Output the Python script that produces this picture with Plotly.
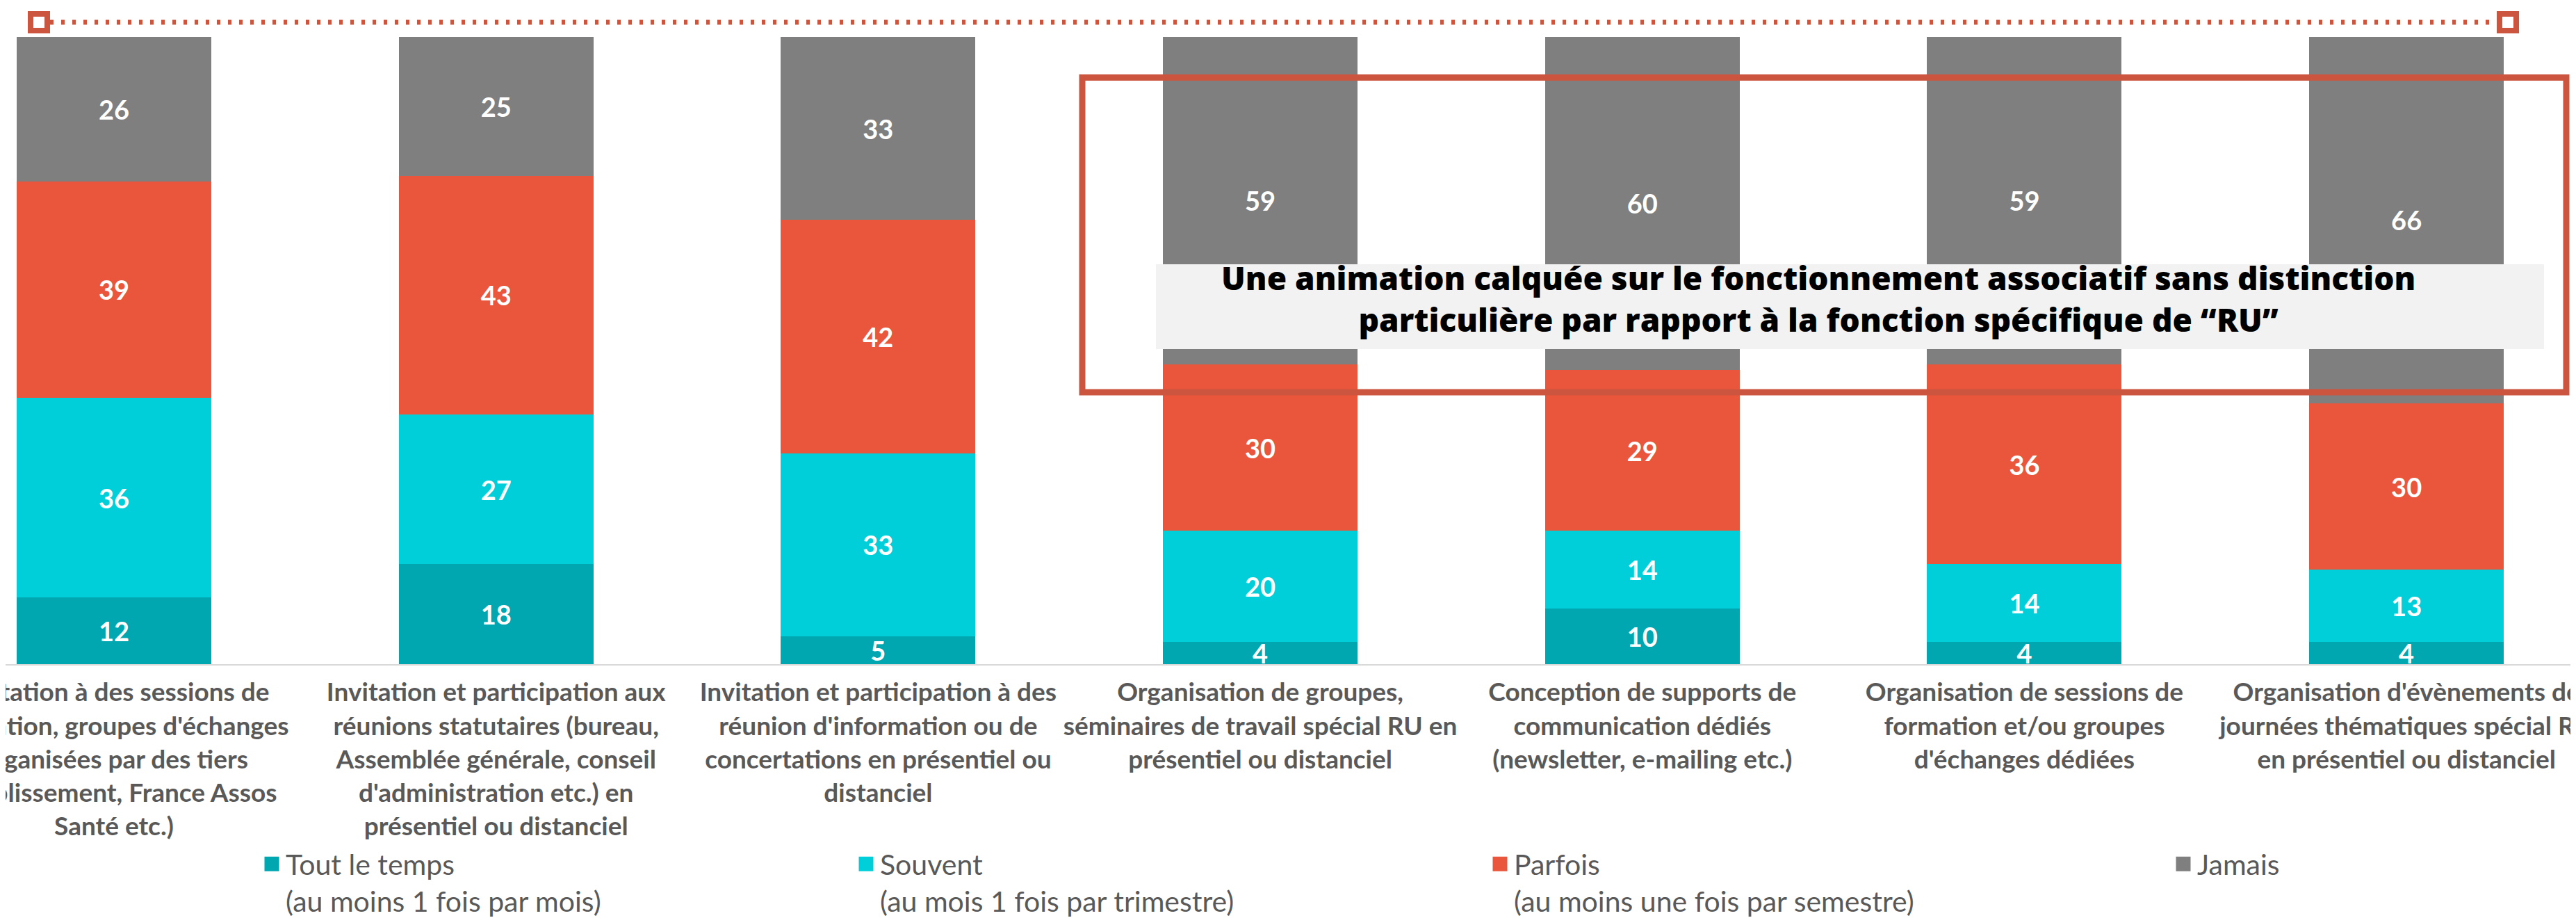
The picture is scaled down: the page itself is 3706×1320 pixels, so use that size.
import plotly.graph_objects as go

categories = [
    "Invitation à des sessions de<br>formation, groupes d'échanges<br>organisées par des tiers<br>(établissement, France Assos<br>Santé etc.)",
    "Invitation et participation aux<br>réunions statutaires (bureau,<br>Assemblée générale, conseil<br>d'administration etc.) en<br>présentiel ou distanciel",
    "Invitation et participation à des<br>réunion d'information ou de<br>concertations en présentiel ou<br>distanciel",
    "Organisation de groupes,<br>séminaires de travail spécial RU en<br>présentiel ou distanciel",
    "Conception de supports de<br>communication dédiés<br>(newsletter, e-mailing etc.)",
    "Organisation de sessions de<br>formation et/ou groupes<br>d'échanges dédiées",
    "Organisation d'évènements de<br>journées thématiques spécial RU<br>en présentiel ou distanciel",
]
series_names = [
    "Tout le temps<br>(au moins 1 fois par mois)",
    "Souvent<br>(au mois 1 fois par trimestre)",
    "Parfois<br>(au moins une fois par semestre)",
    "Jamais",
]
tout_le_temps = [12, 18, 5, 4, 10, 4, 4]
souvent = [36, 27, 33, 20, 14, 14, 13]
parfois = [39, 43, 42, 30, 29, 36, 30]
jamais = [26, 25, 33, 59, 60, 59, 66]
colors = ["#00A6B0", "#00CFDA", "#E9563B", "#7F7F7F"]
callout = ("Une animation calquée sur le fonctionnement associatif sans distinction<br>"
           "particulière par rapport à la fonction spécifique de “RU”")

W, H = 3706, 1320
ML, MR, MT, MB = 0, 0, 45, 373
PW, PH = W - ML - MR, H - MT - MB


def px(x):
    return (x - ML) / PW


def py(y):
    return (H - MB - y) / PH


legend_ids = ["legend", "legend2", "legend3", "legend4"]
legend_text_x = [407, 1262, 2174, 3157]

fig = go.Figure()
for name, vals, col, lid in zip(series_names, [tout_le_temps, souvent, parfois, jamais], colors, legend_ids):
    fig.add_trace(go.Bar(
        x=categories, y=vals, name=name, marker=dict(color=col, line=dict(width=0)),
        text=vals, texttemplate="%{y}", textposition="inside", insidetextanchor="middle",
        textangle=0, constraintext="none",
        textfont=dict(family="Lato", size=38, color="white", weight="bold"),
        showlegend=False, legendgroup=name, hoverinfo="skip",
    ))
    fig.add_trace(go.Scatter(
        x=[None], y=[None], mode="markers", name=name, legendgroup=name, legend=lid,
        marker=dict(symbol="square", size=16, color=col, line=dict(color=col, width=5)),
        showlegend=True, hoverinfo="skip",
    ))

red = "#CB553E"
shapes = [
    dict(type="rect", xref="paper", yref="paper", x0=px(1655), x1=px(3652), y0=py(494), y1=py(372),
         fillcolor="#F2F2F2", line=dict(width=0), layer="above"),
    dict(type="rect", xref="paper", yref="paper", x0=px(1549), x1=px(3684), y0=py(556), y1=py(103.5),
         fillcolor="rgba(0,0,0,0)", line=dict(color=red, width=9), layer="above"),
    dict(type="line", xref="paper", yref="paper", x0=px(48), x1=px(3600), y0=py(24), y1=py(24),
         line=dict(color=red, width=7, dash="5px,11px"), layer="above"),
]
for cx in (48, 3600):
    shapes.append(dict(type="rect", xref="paper", yref="paper", xsizemode="pixel", ysizemode="pixel",
                       xanchor=px(cx), yanchor=py(24), x0=-12, x1=12, y0=-12, y1=12,
                       fillcolor="white", line=dict(color=red, width=8), layer="above"))

legend_common = dict(
    orientation="h", yanchor="top", valign="top",
    font=dict(family="Lato", size=41, color="#595959"),
    bgcolor="rgba(0,0,0,0)", borderwidth=0,
)
legends = {}
for lid, tx in zip(legend_ids, legend_text_x):
    legends[lid] = dict(legend_common, x=px(tx - 44), xanchor="left", y=py(1201))

fig.update_layout(
    template="none",
    width=W, height=H,
    margin=dict(l=ML, r=MR, t=MT, b=MB, pad=0, autoexpand=False),
    paper_bgcolor="white", plot_bgcolor="white",
    barmode="stack", bargap=0.4906,
    shapes=shapes,
    annotations=[dict(
        text=callout, xref="paper", yref="paper", x=px(2608), y=py(421),
        xanchor="center", yanchor="middle", showarrow=False, align="center",
        font=dict(family="Open Sans", size=46, color="black", weight=800),
    )],
    xaxis=dict(
        range=[-0.2838, 6.4582], showgrid=False, zeroline=False, showline=True,
        linecolor="#D9D9D9", linewidth=2, ticks="", tickangle=0, automargin=False,
        ticklabelstandoff=7,
        tickfont=dict(family="Lato", size=37, color="#595959", weight="bold"),
    ),
    yaxis=dict(range=[0, 113], visible=False, showgrid=False, zeroline=False, automargin=False),
    hovermode=False,
    **legends,
)

fig.write_html("out.html")
